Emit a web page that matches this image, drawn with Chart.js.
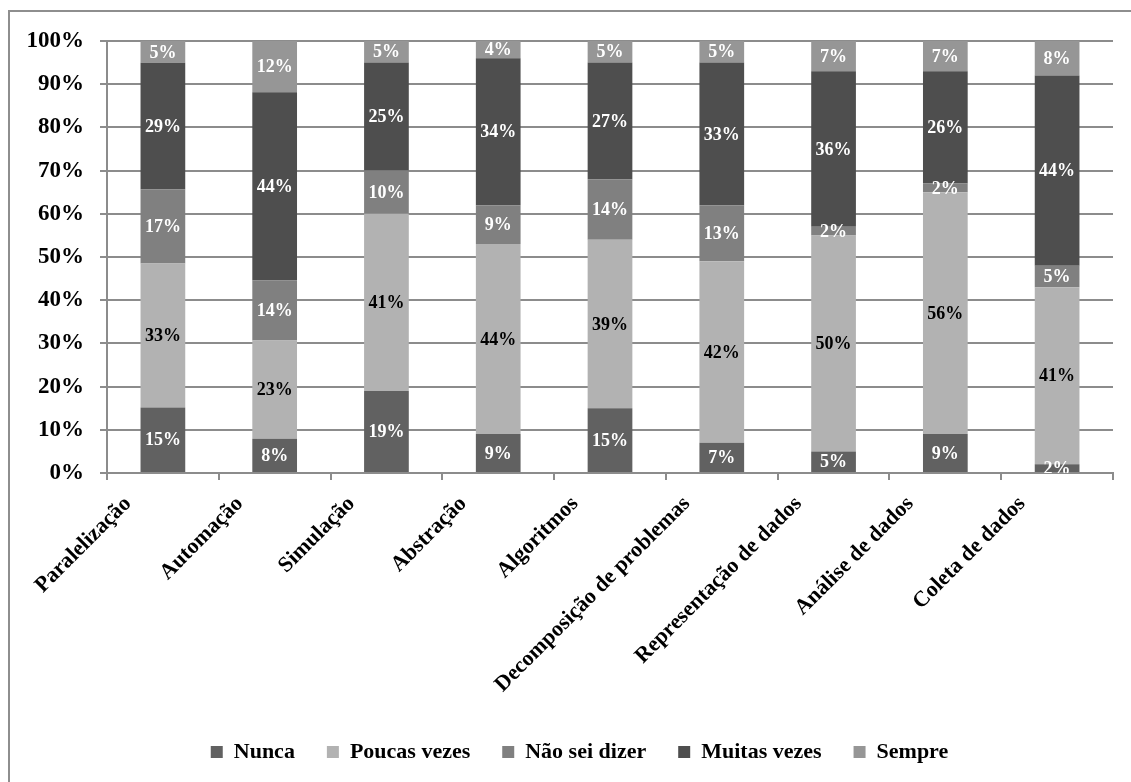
<!DOCTYPE html>
<html lang="pt">
<head>
<meta charset="utf-8">
<title>Frequência de uso por conceito</title>
<script src="https://cdn.jsdelivr.net/npm/chart.js@4/dist/chart.umd.min.js"></script>
<style>
  html, body { margin: 0; padding: 0; background: #ffffff; overflow: hidden; }
  canvas { display: block; }
</style>
</head>
<body>
<canvas id="grafico" width="1131" height="782"></canvas>
<script>
// Categorias do eixo X
const categorias = [
  'Paralelização', 'Automação', 'Simulação', 'Abstração', 'Algoritmos',
  'Decomposição de problemas', 'Representação de dados', 'Análise de dados', 'Coleta de dados'
];

// Percentuais de respostas por categoria
const nunca       = [15,  8, 19,  9, 15,  7,  5,  9,  2];
const poucasVezes = [33, 23, 41, 44, 39, 42, 50, 56, 41];
const naoSeiDizer = [17, 14, 10,  9, 14, 13,  2,  2,  5];
const muitasVezes = [29, 44, 25, 34, 27, 33, 36, 26, 44];
const sempre      = [ 5, 12,  5,  4,  5,  5,  7,  7,  8];

// Rótulos do eixo Y
const rotulosEixoY = ['0%', '10%', '20%', '30%', '40%', '50%', '60%', '70%', '80%', '90%', '100%'];

const series = [
  { nome: 'Nunca',         valores: nunca,       cor: '#616161', corRotulo: '#ffffff' },
  { nome: 'Poucas vezes',  valores: poucasVezes, cor: '#b2b2b2', corRotulo: '#000000' },
  { nome: 'Não sei dizer', valores: naoSeiDizer, cor: '#808080', corRotulo: '#ffffff' },
  { nome: 'Muitas vezes',  valores: muitasVezes, cor: '#4e4e4e', corRotulo: '#ffffff' },
  { nome: 'Sempre',        valores: sempre,      cor: '#969696', corRotulo: '#ffffff' }
];

// Empilhamento em 100%: cada coluna é proporcional ao seu total
const totais = categorias.map((_, i) => series.reduce((s, serie) => s + serie.valores[i], 0));

const fonte = "'Liberation Serif', 'Times New Roman', serif";
const cinzaEixo = '#8c8c8c';

// Rótulos de valor centrados em cada segmento, recortados à área do gráfico
const rotulosPlugin = {
  id: 'rotulosSegmentos',
  afterDatasetsDraw(chart) {
    const { ctx, chartArea } = chart;
    ctx.save();
    ctx.beginPath();
    ctx.rect(chartArea.left, chartArea.top, chartArea.right - chartArea.left, chartArea.bottom - chartArea.top);
    ctx.clip();
    ctx.font = 'bold 18px ' + fonte;
    ctx.textAlign = 'center';
    ctx.textBaseline = 'middle';
    chart.data.datasets.forEach((ds, di) => {
      const meta = chart.getDatasetMeta(di);
      meta.data.forEach((barra, i) => {
        const { x, y, base } = barra.getProps(['x', 'y', 'base'], true);
        ctx.fillStyle = ds.corRotulo;
        ctx.fillText(ds.valores[i] + '%', x, (y + base) / 2 + 1);
      });
    });
    ctx.restore();
  }
};

// Moldura cinza à esquerda e no topo; legenda deslocada um pouco para a direita
const molduraPlugin = {
  id: 'moldura',
  afterLayout(chart) {
    if (chart.legend) {
      chart.legend.left += 13;
      chart.legend.right += 13;
    }
  },
  beforeDraw(chart) {
    const { ctx, width, height } = chart;
    ctx.save();
    ctx.strokeStyle = '#8e8e8e';
    ctx.lineWidth = 2;
    ctx.beginPath();
    ctx.moveTo(9, height);
    ctx.lineTo(9, 11);
    ctx.lineTo(width, 11);
    ctx.stroke();
    ctx.restore();
  }
};

new Chart(document.getElementById('grafico'), {
  type: 'bar',
  data: {
    labels: categorias,
    datasets: series.map(s => ({
      label: s.nome,
      data: s.valores.map((v, i) => v / totais[i] * 100),
      valores: s.valores,
      corRotulo: s.corRotulo,
      backgroundColor: s.cor,
      borderWidth: 0,
      categoryPercentage: 1,
      barPercentage: 0.4
    }))
  },
  options: {
    responsive: false,
    animation: false,
    devicePixelRatio: 1,
    layout: { padding: { left: 20, top: 41, right: 18, bottom: 13 } },
    plugins: {
      title: { display: false },
      tooltip: { enabled: false },
      legend: {
        position: 'bottom',
        maxHeight: 60,
        labels: {
          boxWidth: 12,
          boxHeight: 12,
          padding: 32,
          color: '#000000',
          font: { family: fonte, size: 22, weight: 'bold' }
        }
      }
    },
    scales: {
      x: {
        stacked: true,
        offset: true,
        grid: {
          offset: true,
          drawOnChartArea: false,
          drawTicks: true,
          tickLength: 7,
          color: cinzaEixo,
          lineWidth: 2
        },
        border: { color: cinzaEixo, width: 2 },
        ticks: {
          autoSkip: false,
          minRotation: 45,
          maxRotation: 45,
          padding: 11,
          labelOffset: -35,
          color: '#000000',
          font: { family: fonte, size: 22, weight: 'bold' }
        },
        afterFit(scale) { scale.height = 236; }
      },
      y: {
        stacked: true,
        min: 0,
        max: 100,
        grid: { color: cinzaEixo, lineWidth: 2, tickLength: 7 },
        border: { color: cinzaEixo, width: 2 },
        ticks: {
          stepSize: 10,
          padding: 16,
          color: '#000000',
          font: { family: fonte, size: 23, weight: 'bold' },
          callback: (v, i) => rotulosEixoY[i]
        },
        afterFit(scale) { scale.width = 87; }
      }
    }
  },
  plugins: [molduraPlugin, rotulosPlugin]
});
</script>
</body>
</html>
